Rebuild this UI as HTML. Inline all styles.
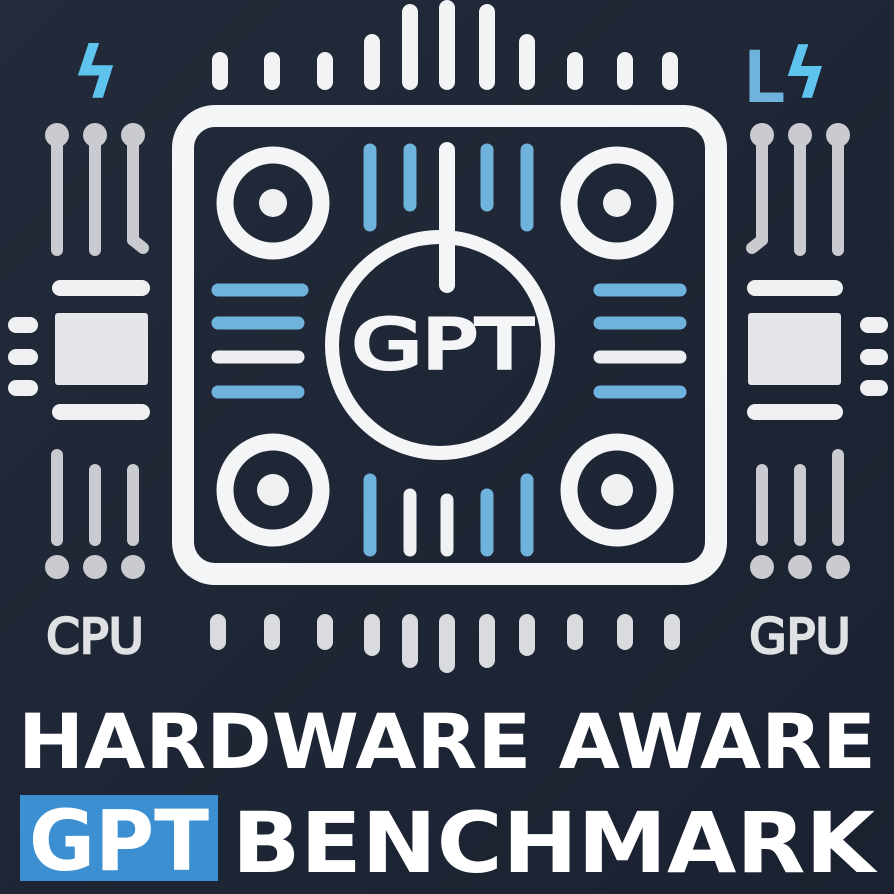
<!DOCTYPE html>
<html><head><meta charset="utf-8"><style>
html,body{margin:0;padding:0;background:#1d2431;}
svg{display:block}
text{font-family:"DejaVu Sans","Liberation Sans",sans-serif}
</style></head><body>
<svg width="894" height="894" viewBox="0 0 894 894" xmlns="http://www.w3.org/2000/svg">
<defs><linearGradient id="bg" x1="0" y1="0" x2="1" y2="1"><stop offset="0" stop-color="#232b3a"/><stop offset="1" stop-color="#1a2130"/></linearGradient></defs>
<rect width="894" height="894" fill="url(#bg)"/>
<g stroke-linecap="round" fill="none">
<g stroke="#f2f3f5" stroke-width="16">
<line x1="220" y1="60" x2="220" y2="82"/><line x1="272" y1="60" x2="272" y2="82"/><line x1="325" y1="60" x2="325" y2="82"/>
<line x1="372" y1="42" x2="372" y2="82"/><line x1="410" y1="12" x2="410" y2="82"/><line x1="447" y1="8" x2="447" y2="82"/>
<line x1="487" y1="12" x2="487" y2="82"/><line x1="527" y1="42" x2="527" y2="82"/>
<line x1="575" y1="60" x2="575" y2="82"/><line x1="625" y1="60" x2="625" y2="82"/><line x1="670" y1="60" x2="670" y2="82"/>
</g>
<g stroke="#d9dbdf" stroke-width="16">
<line x1="218" y1="622" x2="218" y2="642"/><line x1="272" y1="622" x2="272" y2="642"/><line x1="325" y1="622" x2="325" y2="642"/>
<line x1="372" y1="622" x2="372" y2="648"/><line x1="410" y1="622" x2="410" y2="660"/><line x1="447" y1="622" x2="447" y2="665"/>
<line x1="487" y1="622" x2="487" y2="660"/><line x1="527" y1="622" x2="527" y2="648"/>
<line x1="575" y1="622" x2="575" y2="642"/><line x1="625" y1="622" x2="625" y2="642"/><line x1="672" y1="622" x2="672" y2="642"/>
</g>
<rect x="183" y="116" width="533" height="458" rx="32" stroke="#f4f5f7" stroke-width="22"/>
<circle cx="440" cy="345" r="108" stroke="#f4f5f7" stroke-width="14"/>
<line x1="447" y1="150" x2="447" y2="285" stroke="#f4f5f7" stroke-width="16"/>
<g stroke="#f4f5f7" stroke-width="17">
<circle cx="273" cy="203" r="48"/><circle cx="617" cy="203" r="48"/><circle cx="273" cy="490" r="48"/><circle cx="617" cy="490" r="48"/>
</g>
<g stroke="#6fb3dc" stroke-width="13">
<line x1="370" y1="150" x2="370" y2="225"/><line x1="410" y1="150" x2="410" y2="205"/><line x1="487" y1="150" x2="487" y2="205"/><line x1="527" y1="150" x2="527" y2="225"/>
<line x1="370" y1="480" x2="370" y2="550"/><line x1="527" y1="480" x2="527" y2="550"/><line x1="487" y1="495" x2="487" y2="550"/>
</g>
<g stroke="#f0f1f3" stroke-width="13"><line x1="410" y1="495" x2="410" y2="550"/><line x1="447" y1="500" x2="447" y2="550"/></g>
<g stroke-width="13">
<line x1="218" y1="290" x2="302" y2="290" stroke="#6fb3dc"/><line x1="218" y1="323" x2="298" y2="323" stroke="#6fb3dc"/>
<line x1="218" y1="357" x2="298" y2="357" stroke="#eceef1"/><line x1="218" y1="392" x2="298" y2="392" stroke="#6fb3dc"/>
<line x1="600" y1="290" x2="680" y2="290" stroke="#6fb3dc"/><line x1="600" y1="323" x2="680" y2="323" stroke="#6fb3dc"/>
<line x1="600" y1="357" x2="680" y2="357" stroke="#eceef1"/><line x1="600" y1="392" x2="680" y2="392" stroke="#6fb3dc"/>
</g>
<g stroke="#c9cbd0" stroke-width="12">
<line x1="57" y1="135" x2="57" y2="250"/><line x1="95" y1="135" x2="95" y2="250"/><line x1="133" y1="135" x2="133" y2="240"/><line x1="133" y1="240" x2="143" y2="248"/>
<line x1="57" y1="455" x2="57" y2="540"/><line x1="95" y1="470" x2="95" y2="540"/><line x1="133" y1="470" x2="133" y2="540"/>
<line x1="762" y1="135" x2="762" y2="240"/><line x1="762" y1="240" x2="752" y2="248"/><line x1="800" y1="135" x2="800" y2="250"/><line x1="838" y1="135" x2="838" y2="250"/>
<line x1="838" y1="455" x2="838" y2="540"/><line x1="800" y1="470" x2="800" y2="540"/><line x1="762" y1="470" x2="762" y2="540"/>
</g>
<g stroke="#eef0f2" stroke-width="16">
<line x1="60" y1="288" x2="142" y2="288"/><line x1="60" y1="412" x2="142" y2="412"/>
<line x1="16" y1="325" x2="30" y2="325"/><line x1="16" y1="357" x2="30" y2="357"/><line x1="16" y1="388" x2="30" y2="388"/>
<line x1="755" y1="288" x2="835" y2="288"/><line x1="755" y1="412" x2="835" y2="412"/>
<line x1="868" y1="325" x2="880" y2="325"/><line x1="868" y1="357" x2="880" y2="357"/><line x1="868" y1="388" x2="880" y2="388"/>
</g>
</g>
<g fill="#eef0f2">
<circle cx="273" cy="203" r="14"/><circle cx="617" cy="203" r="14"/><circle cx="273" cy="490" r="16"/><circle cx="617" cy="490" r="16"/>
<rect x="55" y="313" width="93" height="72" rx="3" fill="#e4e6ea"/><rect x="748" y="313" width="93" height="72" rx="3" fill="#e4e6ea"/>
</g>
<g fill="#c9cbd0">
<circle cx="57" cy="135" r="12"/><circle cx="95" cy="135" r="12"/><circle cx="133" cy="135" r="12"/>
<circle cx="762" cy="135" r="12"/><circle cx="800" cy="135" r="12"/><circle cx="838" cy="135" r="12"/>
<circle cx="57" cy="567" r="12"/><circle cx="95" cy="567" r="12"/><circle cx="133" cy="567" r="12"/>
<circle cx="762" cy="567" r="12"/><circle cx="800" cy="567" r="12"/><circle cx="838" cy="567" r="12"/>
</g>
<text x="72" y="98" font-size="72" fill="#5ec4ee" style="font-weight:bold">ϟ</text>
<text x="745" y="100" font-size="66" fill="#6fb3dc" stroke="#6fb3dc" stroke-width="4">L</text><text x="782" y="98" font-size="70" fill="#5ec4ee" style="font-weight:bold">ϟ</text>
<text x="442" y="368" font-size="68" fill="#f4f5f7" stroke="#f4f5f7" stroke-width="4" text-anchor="middle" textLength="180" lengthAdjust="spacingAndGlyphs">GPT</text>
<text x="95" y="653" font-size="48" fill="#dfe1e5" stroke="#dfe1e5" stroke-width="2.5" text-anchor="middle">CPU</text>
<text x="800" y="653" font-size="48" fill="#dfe1e5" stroke="#dfe1e5" stroke-width="2.5" text-anchor="middle">GPU</text>
<text x="447" y="768" font-size="76" fill="#ffffff" text-anchor="middle" textLength="858" lengthAdjust="spacingAndGlyphs" style="font-weight:bold">HARDWARE AWARE</text>
<rect x="20" y="795" width="198" height="86" fill="#3c8fd0"/>
<text x="119" y="870" font-size="84" fill="#ffffff" text-anchor="middle" textLength="180" lengthAdjust="spacingAndGlyphs" style="font-weight:bold">GPT</text>
<text x="232" y="872" font-size="84" fill="#ffffff" textLength="643" lengthAdjust="spacingAndGlyphs" style="font-weight:bold">BENCHMARK</text>
</svg>
</body></html>
